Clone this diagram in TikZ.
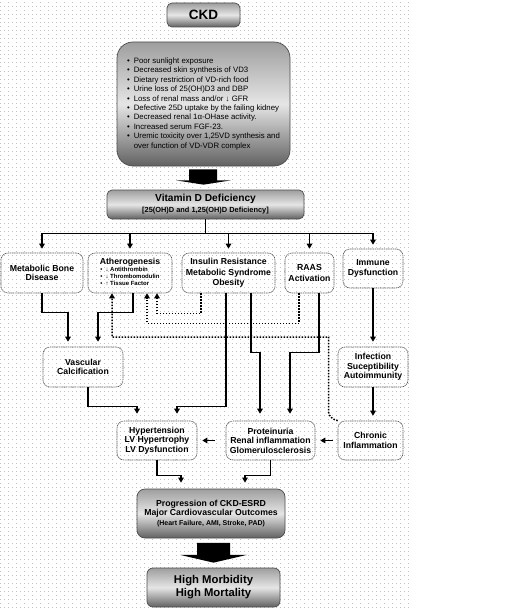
\documentclass[tikz,border=0pt]{standalone}
\usepackage{fontspec}
\setmainfont{Liberation Sans}
\usetikzlibrary{arrows.meta,calc}
\begin{document}
\begin{tikzpicture}[x=1pt,y=-1pt,
  gridc/.style={black!24, line width=1pt},
  wbox/.style={draw=black!65, line width=0.6pt, dash pattern=on 1.2pt off 0.6pt, rounded corners=7pt, align=center, font=\fontsize{8.7}{9.6}\selectfont\bfseries, inner sep=0pt},
  gbox/.style={draw=black!70, line width=0.7pt, rounded corners=6pt, top color=black!38, bottom color=black!62, middle color=black!10, align=center, inner sep=0pt},
  conn/.style={line width=1.5pt, -{Triangle[length=5pt,width=5.5pt]}, shorten >=4pt},
  plain/.style={line width=1.5pt},
  dconn/.style={line width=1.5pt, dash pattern=on 1.5pt off 1.5pt, -{Triangle[length=5pt,width=5.5pt]}},
  bigarrow/.style={fill=black}
]
\useasboundingbox (0,0) rectangle (526,610);
% dotted background grid
\foreach \yy in {3,11,...,607} \draw[gridc, dash pattern=on 1pt off 7pt] (0,\yy) -- (410,\yy);
\foreach \yy in {7,15,...,607} \draw[gridc, dash pattern=on 1pt off 3pt] (0,\yy) -- (410,\yy);

% top
\node[gbox, rounded corners=5pt, minimum width=73pt, minimum height=24pt, font=\fontsize{13.5}{15}\selectfont\bfseries] (ckd) at (203.5,15) {CKD};
\node[gbox, rounded corners=16pt, minimum width=173pt, minimum height=124pt, font=\fontsize{7.8}{9.4}\selectfont] (causes) at (203.5,104) {\begin{tabular}{@{}l@{\hspace{4pt}}l@{}}
•&Poor sunlight exposure\\
•&Decreased skin synthesis of VD3\\
•&Dietary restriction of VD-rich food\\
•&Urine loss of 25(OH)D3 and DBP\\
•&Loss of renal mass and/or ↓ GFR\\
•&Defective 25D uptake by the failing kidney\\
•&Decreased renal 1α-OHase activity.\\
•&Increased serum FGF-23.\\
•&Uremic toxicity over 1,25VD synthesis and\\
&over function of VD-VDR complex
\end{tabular}};
\node[gbox, rounded corners=5pt, minimum width=197pt, minimum height=29pt] (vitd) at (205.5,204.5) {{\fontsize{10.2}{12}\selectfont\bfseries Vitamin D Deficiency}\\[-1pt]{\fontsize{7.4}{8.5}\selectfont\bfseries [25(OH)D and 1,25(OH)D Deficiency]}};

% big arrow 1
\fill[bigarrow] ($(causes.south)+(-14.5,3)$) -- ++(28,0) -- ++(0,11) -- ++(14,0) -- ($(vitd.north)+(-2,-5)$) -- ($(causes.south)+(-27.5,14)$) -- ++(13,0) -- cycle;

% second row
\node[wbox, minimum width=82pt, minimum height=40pt] (mbd) at (42,273) {Metabolic Bone\\Disease};
\node[wbox, minimum width=84pt, minimum height=40pt] (ath) at (130,273) {Atherogenesis\\[-1pt]{\fontsize{6}{7.4}\selectfont\begin{tabular}{@{}l@{\hspace{3pt}}l@{}}•&↓ Antithrombin\\•&↓ Thrombomodulin\\•&↑ Tissue Factor\end{tabular}}};
\node[wbox, minimum width=93pt, minimum height=40pt, font=\fontsize{8.7}{10.5}\selectfont\bfseries] (ins) at (228.5,273) {Insulin Resistance\\Metabolic Syndrome\\Obesity};
\node[wbox, minimum width=49pt, minimum height=40pt, font=\fontsize{8.7}{10.5}\selectfont\bfseries] (raas) at (309.5,273) {RAAS\\Activation};
\node[wbox, minimum width=60pt, minimum height=39pt] (imm) at (373,268.5) {Immune\\Dysfunction};

% third row
\node[wbox, minimum width=80pt, minimum height=40pt] (vasc) at (83,367) {Vascular\\Calcification};
\node[wbox, minimum width=70pt, minimum height=40pt] (inf) at (373,367) {Infection\\Suceptibility\\Autoimmunity};

% fourth row
\node[wbox, minimum width=80pt, minimum height=39pt] (hyp) at (157,440.5) {Hypertension\\LV Hypertrophy\\LV Dysfunction};
\node[wbox, minimum width=89pt, minimum height=39pt] (prot) at (270.5,440.5) {Proteinuria\\Renal inflammation\\Glomerulosclerosis};
\node[wbox, minimum width=65pt, minimum height=39pt] (chr) at (370.5,440.5) {Chronic\\Inflammation};

% bottom
\node[gbox, rounded corners=8pt, minimum width=148pt, minimum height=49pt, font=\fontsize{8.7}{9.6}\selectfont\bfseries] (prog) at (211,513.5) {Progression of CKD-ESRD\\Major Cardiovascular Outcomes\\{\fontsize{7}{8}\selectfont (Heart Failure, AMI, Stroke, PAD)}};
\node[gbox, rounded corners=6pt, minimum width=133pt, minimum height=39pt, font=\fontsize{11.3}{13}\selectfont\bfseries] (high) at (213.5,587.5) {High Morbidity\\High Mortality};

% big arrow 2
\fill[bigarrow] ($(prog.south)+(-14,4.5)$) -- ++(33,0) -- ++(0,12) -- ++(17,0) -- ($(high.north)+(0,-5)$) -- ($(prog.south)+(-31,16.5)$) -- ++(17,0) -- cycle;

% distribution bus
\draw[plain] (vitd.south) -- ++(0,14) coordinate (bus);
\draw[plain] (mbd.north |- bus) -- (imm.north |- bus);
\foreach \n in {mbd,ath,ins,raas,imm} \draw[conn] (\n.north |- bus) -- (\n.north);

% solid connectors
\draw[conn, shorten >=5pt] (mbd.south) -- ++(0,19) -| ([xshift=-15pt]vasc.north);
\draw[conn, shorten >=5pt] ([xshift=3pt]ath.south) -- ++(0,19) -| ([xshift=15pt]vasc.north);
\draw[conn, shorten >=7pt] ([xshift=5pt]vasc.south) -- ++(0,19) -| ([xshift=-20pt]hyp.north);
\draw[conn, shorten >=7pt] ([xshift=-2.5pt]ins.south) -- ++(0,113) -| ([xshift=20pt]hyp.north);
\draw[conn, shorten >=7pt] ([xshift=22.5pt]ins.south) -- ++(0,59) -| ([xshift=-10.5pt]prot.north);
\draw[conn, shorten >=7pt] ([xshift=9.5pt]raas.south) -- ++(0,59) -| ([xshift=19.5pt]prot.north);
\draw[conn, shorten >=5pt] (imm.south) -- (inf.north);
\draw[conn, shorten >=5pt] (inf.south) -- (inf.south |- chr.north);
\draw[conn, shorten <=5pt, shorten >=5pt] (chr.west) -- (prot.east);
\draw[conn, shorten <=11pt, shorten >=5pt] (prot.west) -- (hyp.east);
\draw[conn, shorten >=6pt] (hyp.south) -- ++(0,15) -| ([xshift=-30pt]prog.north);
\draw[conn, shorten >=6pt] (prot.south) -- ++(0,15) -| ([xshift=34pt]prog.north);

% dotted feedback connectors
\draw[dconn] ([xshift=-27.5pt]ins.south) -- ++(0,20) -| ([xshift=27pt]ath.south);
\draw[dconn] ([xshift=-10.5pt]raas.south) -- ++(0,30) -| ([xshift=17pt]ath.south);
\draw[dconn] (chr.north west) .. controls ++(-5,-1) and ++(0,3) .. ++(-9,-8) |- ([xshift=-18pt]ath.south |- 0,337) -- ([xshift=-18pt]ath.south);
\end{tikzpicture}
\end{document}
